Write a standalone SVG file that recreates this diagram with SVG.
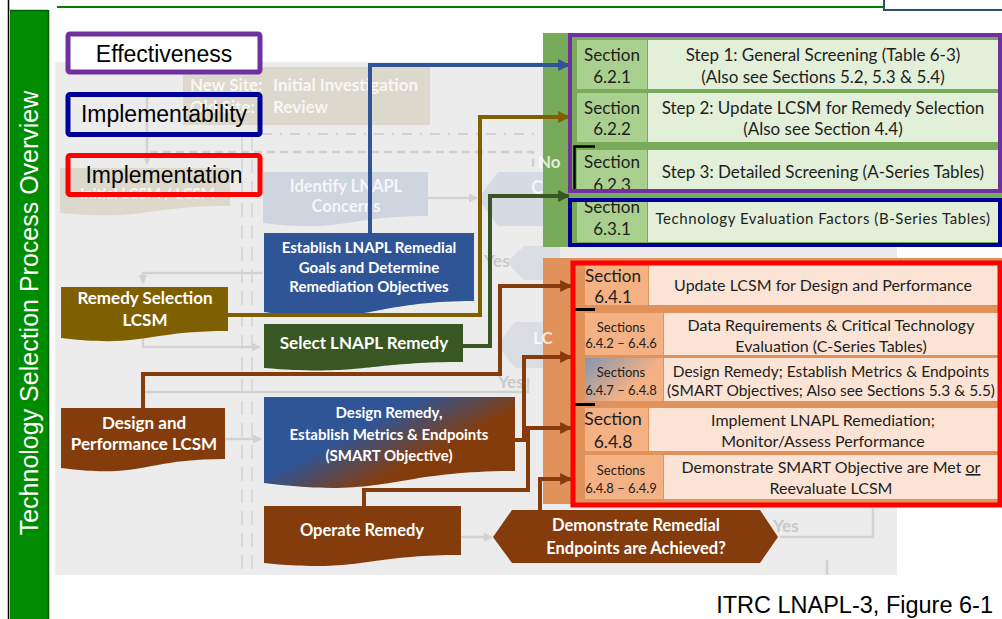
<svg xmlns="http://www.w3.org/2000/svg" width="1002" height="619" viewBox="0 0 1002 619">
<defs>
<style>
.bgt{font-family:Lato,"Liberation Sans",sans-serif;font-weight:bold;fill:#ffffff;fill-opacity:0.8}
.fy{font-family:Lato,"Liberation Sans",sans-serif;font-weight:bold;fill:#c9c9c9}
.nt{font-family:Lato,"Liberation Sans",sans-serif;font-weight:bold;fill:#ffffff;text-anchor:middle}
.tt{font-family:Lato,"Liberation Sans",sans-serif;fill:#1e1e1e;text-anchor:middle}
.leg{font-family:"Liberation Sans",Arial,sans-serif;font-size:23px;fill:#000000;text-anchor:middle}
.lb{stroke-width:5;rx:2}
.gl{fill:none;stroke:#d2d2d2;stroke-width:2.5}
.cn{fill:none;stroke-width:4}
.gcl{fill:#a9d08e}
.gcr{fill:#e2efd9}
.ocl{fill:#f4b183}
.ocr{fill:#fbe4d5}
</style>
<marker id="ag" viewBox="0 0 10 10" refX="9" refY="5" markerUnits="userSpaceOnUse" markerWidth="9" markerHeight="9" orient="auto"><path d="M0,0 L10,5 L0,10 z" fill="#d2d2d2"/></marker>
<marker id="ab" viewBox="0 0 10 10" refX="9" refY="5" markerUnits="userSpaceOnUse" markerWidth="12" markerHeight="12" orient="auto"><path d="M0,0 L10,5 L0,10 z" fill="#2f5597"/></marker>
<marker id="ao" viewBox="0 0 10 10" refX="9" refY="5" markerUnits="userSpaceOnUse" markerWidth="12" markerHeight="12" orient="auto"><path d="M0,0 L10,5 L0,10 z" fill="#7f6000"/></marker>
<marker id="agr" viewBox="0 0 10 10" refX="9" refY="5" markerUnits="userSpaceOnUse" markerWidth="12" markerHeight="12" orient="auto"><path d="M0,0 L10,5 L0,10 z" fill="#385723"/></marker>
<marker id="abr" viewBox="0 0 10 10" refX="9" refY="5" markerUnits="userSpaceOnUse" markerWidth="12" markerHeight="12" orient="auto"><path d="M0,0 L10,5 L0,10 z" fill="#843c0c"/></marker>
<linearGradient id="gdr" x1="0" y1="0" x2="1" y2="0.7">
<stop offset="0.42" stop-color="#2f5597"/>
<stop offset="0.74" stop-color="#843c0c"/>
</linearGradient>
<linearGradient id="gsc" x1="0" y1="0" x2="1" y2="0.6">
<stop offset="0" stop-color="#8497b0"/>
<stop offset="0.75" stop-color="#f4b183"/>
</linearGradient>
</defs>

<!-- frame -->
<rect x="0" y="0" width="1002" height="619" fill="#ffffff"/>
<line x1="8.5" y1="0" x2="8.5" y2="619" stroke="#000000" stroke-width="1.5"/>
<rect x="10" y="10" width="38" height="609" fill="#008c00"/>
<line x1="48.5" y1="10" x2="48.5" y2="619" stroke="#005c00" stroke-width="1.5"/>
<line x1="10" y1="10.5" x2="48" y2="10.5" stroke="#006000" stroke-width="1.5"/>
<text transform="translate(38,313) rotate(-90)" text-anchor="middle" font-family="'Liberation Sans',Arial,sans-serif" font-size="25" fill="#ffffff">Technology Selection Process Overview</text>
<line x1="57" y1="7" x2="885" y2="7" stroke="#008000" stroke-width="2"/>
<rect x="884" y="-6" width="124" height="16" fill="#ffffff" stroke="#2d4f66" stroke-width="2"/>

<!-- faded background flowchart -->
<g id="background">
<rect x="55" y="62" width="842" height="513" fill="#ececec"/>
<rect x="183" y="67" width="247" height="58" fill="#dcd8cc"/>
<text class="bgt" font-size="17" x="190" y="91">New Site:</text>
<text class="bgt" font-size="17" x="273" y="91">Initial Investigation</text>
<text class="bgt" font-size="17" x="190" y="113">Old Site:</text>
<text class="bgt" font-size="17" x="273" y="113">Review</text>
<line x1="262" y1="134" x2="535" y2="134" stroke="#d2d2d2" stroke-width="2" stroke-dasharray="10,8,2,8"/>
<path d="M150,152 H533 V172" fill="none" stroke="#d0d0d0" stroke-width="2.5" stroke-dasharray="8,5"/>
<line x1="242" y1="137" x2="242" y2="575" stroke="#dadada" stroke-width="2" stroke-dasharray="14,8"/>
<line x1="252" y1="137" x2="252" y2="575" stroke="#dadada" stroke-width="2" stroke-dasharray="14,8"/>
<path d="M60,168 h170 v38 C145,206 145,221 60,213 Z" fill="#dcd8cc"/>
<text class="bgt" font-size="15" x="80" y="199" fill-opacity="0.55">Initial LCSM / LCSM</text>
<path d="M263,172 h165 v44 C345,216 345,233 263,223 Z" fill="#cfd5df"/>
<text class="bgt" font-size="16.5" x="346" y="192" text-anchor="middle">Identify LNAPL</text>
<text class="bgt" font-size="16.5" x="346" y="212" text-anchor="middle">Concerns</text>
<polygon points="478,199 498,172 560,172 560,226 498,226" fill="#d5dae3"/>
<polygon points="507,262 524,246 560,246 560,280 524,280" fill="#dadde2"/>
<polygon points="497,345 515,322 560,322 560,368 515,368" fill="#dadde2"/>
<path class="gl" d="M147,97 V164" marker-end="url(#ag)"/>
<path class="gl" d="M263,273 H143 V283" marker-end="url(#ag)"/>
<path class="gl" d="M143,338 V347 H260" marker-end="url(#ag)"/>
<path class="gl" d="M143,392 H528 V378"/>
<path class="gl" d="M225,439 H261" marker-end="url(#ag)"/>
<path class="gl" d="M461,537 H492" marker-end="url(#ag)"/>
<path class="gl" d="M428,198 H477" marker-end="url(#ag)"/>
<path class="gl" d="M780,537 H873 V508"/>
<path class="gl" d="M827,450 V482"/>
<path class="gl" d="M827,560 V575"/>
<text class="fy" font-size="17" x="484" y="267">Yes</text>
<text class="fy" font-size="17" x="498" y="388">Yes</text>
<text class="fy" font-size="17" x="773" y="532">Yes</text>
</g>

<!-- coloured columns behind tables -->
<rect x="543" y="33" width="459" height="214" fill="#77aa59"/>
<rect x="543" y="258" width="459" height="246" fill="#e1915a"/>
<text class="bgt" font-size="17" x="538" y="168" fill-opacity="0.3">No</text>
<text class="bgt" font-size="18" x="531" y="194" fill-opacity="0.35">C</text>
<text class="bgt" font-size="17" x="533" y="344" fill-opacity="0.5">LC</text>

<!-- legend -->
<g id="legend-effectiveness">
<rect class="lb" x="68" y="34" width="192" height="38" fill="#ffffff" stroke="#7030a0"/>
<text class="leg" x="164" y="62">Effectiveness</text>
</g>
<g id="legend-implementability">
<rect class="lb" x="68" y="94.5" width="192" height="40" fill="none" stroke="#000099"/>
<text class="leg" x="164" y="122">Implementability</text>
</g>
<g id="legend-implementation">
<rect class="lb" x="68" y="155.5" width="192" height="39" fill="none" stroke="#ff0000"/>
<text class="leg" x="164" y="183">Implementation</text>
</g>

<!-- nodes -->
<g id="remedy-selection-lcsm">
<path d="M61,287 h167 v44 C144.5,331 144.5,348 61,338 Z" fill="#7f6000"/>
<text class="nt" font-size="17" x="145" y="304">Remedy Selection</text>
<text class="nt" font-size="17" x="145" y="326">LCSM</text>
</g>
<g id="design-performance-lcsm">
<path d="M61,408 h164 v51 C143,459 143,479 61,468 Z" fill="#843c0c"/>
<text class="nt" font-size="17" x="144" y="429">Design and</text>
<text class="nt" font-size="17" x="144" y="450">Performance LCSM</text>
</g>
<g id="establish-goals">
<path d="M264,233 h210 v68 C369,301 369,327 264,312 Z" fill="#2f5597"/>
<text class="nt" font-size="15" x="369" y="253">Establish LNAPL Remedial</text>
<text class="nt" font-size="15" x="369" y="273">Goals and Determine</text>
<text class="nt" font-size="15" x="369" y="292">Remediation Objectives</text>
</g>
<g id="select-remedy">
<path d="M264,324 h199 v38 C363.5,362 363.5,376 264,368 Z" fill="#385723"/>
<text class="nt" font-size="17" x="364" y="349">Select LNAPL Remedy</text>
</g>
<g id="design-remedy">
<path d="M264,397 h251 v74 C389.5,471 389.5,499 264,483 Z" fill="url(#gdr)"/>
<text class="nt" font-size="15" x="389" y="418">Design Remedy,</text>
<text class="nt" font-size="15" x="389" y="440">Establish Metrics &amp; Endpoints</text>
<text class="nt" font-size="15" x="389" y="461">(SMART Objective)</text>
</g>
<g id="operate-remedy">
<path d="M264,506 h197 v49 C362.5,555 362.5,573 264,563 Z" fill="#843c0c"/>
<text class="nt" font-size="16.5" x="362" y="536">Operate Remedy</text>
</g>
<g id="demonstrate-endpoints">
<polygon points="493,537 512,510 760,510 778,537 760,563 512,563" fill="#843c0c"/>
<text class="nt" font-size="16.5" x="636" y="531">Demonstrate Remedial</text>
<text class="nt" font-size="16.5" x="636" y="554">Endpoints are Achieved?</text>
</g>

<!-- connectors -->
<g id="connectors">
<path class="cn" stroke="#2f5597" d="M370,233 V65 H569" marker-end="url(#ab)"/>
<path class="cn" stroke="#7f6000" d="M228,315 H480 V117 H569" marker-end="url(#ao)"/>
<path class="cn" stroke="#385723" d="M463,346 H490 V196 H569" marker-end="url(#agr)"/>
<path class="cn" stroke="#843c0c" d="M143,408 V374 H500 V286 H571" marker-end="url(#abr)"/>
<path class="cn" stroke="#843c0c" d="M515,440 H524 V357 H571" marker-end="url(#abr)"/>
<path class="cn" stroke="#843c0c" d="M364,506 V490 H528 V428 H571" marker-end="url(#abr)"/>
<path class="cn" stroke="#843c0c" d="M540,510 V479 H571" marker-end="url(#abr)"/>
</g>

<!-- screening table (green) -->
<g id="section-6-2-1">
<rect class="gcl" x="577" y="40" width="70" height="49"/>
<rect class="gcr" x="648" y="40" width="350" height="49"/>
<text class="tt" font-size="17" x="612" y="61">Section</text>
<text class="tt" font-size="17" x="612" y="83">6.2.1</text>
<text class="tt" font-size="17" x="823" y="61">Step 1: General Screening (Table 6-3)</text>
<text class="tt" font-size="17" x="823" y="83">(Also see Sections 5.2, 5.3 &amp; 5.4)</text>
</g>
<g id="section-6-2-2">
<rect class="gcl" x="577" y="93" width="70" height="49"/>
<rect class="gcr" x="648" y="93" width="350" height="49"/>
<text class="tt" font-size="17" x="612" y="114">Section</text>
<text class="tt" font-size="17" x="612" y="135">6.2.2</text>
<text class="tt" font-size="17" x="823" y="114">Step 2: Update LCSM for Remedy Selection</text>
<text class="tt" font-size="17" x="823" y="135">(Also see Section 4.4)</text>
</g>
<g id="section-6-2-3">
<rect class="gcl" x="577" y="150" width="70" height="42"/>
<rect class="gcr" x="648" y="150" width="350" height="42"/>
<text class="tt" font-size="17" x="612" y="168">Section</text>
<text class="tt" font-size="17" x="612" y="191">6.2.3</text>
<text class="tt" font-size="17" x="823" y="178">Step 3: Detailed Screening (A-Series Tables)</text>
<path d="M595,146.5 H574.5 V190" fill="none" stroke="#000000" stroke-width="2.5"/>
</g>
<g id="section-6-3-1">
<rect class="gcl" x="577" y="200" width="70" height="42"/>
<rect class="gcr" x="648" y="200" width="350" height="42"/>
<text class="tt" font-size="17" x="612" y="213">Section</text>
<text class="tt" font-size="17" x="612" y="235">6.3.1</text>
<text class="tt" font-size="15" x="823" y="224" letter-spacing="0.55">Technology  Evaluation  Factors  (B-Series  Tables)</text>
</g>
<rect x="570" y="35" width="430" height="156" fill="none" stroke="#7030a0" stroke-width="4"/>
<rect x="570" y="200" width="430" height="45" fill="none" stroke="#000099" stroke-width="4"/>

<!-- implementation table (orange) -->
<g id="section-6-4-1">
<rect class="ocl" x="585" y="265" width="63" height="40"/>
<rect class="ocr" x="649" y="265" width="349" height="40"/>
<text class="tt" font-size="17" x="613" y="282">Section</text>
<text class="tt" font-size="17" x="613" y="303">6.4.1</text>
<text class="tt" font-size="16" x="823" y="291">Update LCSM for Design and Performance</text>
</g>
<g id="sections-6-4-2">
<rect class="ocl" x="585" y="313" width="78" height="42"/>
<rect class="ocr" x="664" y="313" width="334" height="42"/>
<text class="tt" font-size="13" x="621" y="332">Sections</text>
<text class="tt" font-size="13" x="621" y="348">6.4.2 – 6.4.6</text>
<text class="tt" font-size="16" x="831" y="331">Data Requirements &amp; Critical Technology</text>
<text class="tt" font-size="16" x="831" y="352">Evaluation (C-Series Tables)</text>
</g>
<g id="sections-6-4-7">
<rect x="585" y="358" width="78" height="43" fill="url(#gsc)"/>
<rect class="ocr" x="664" y="358" width="334" height="43"/>
<text class="tt" font-size="13" x="621" y="377">Sections</text>
<text class="tt" font-size="13" x="621" y="395">6.4.7 – 6.4.8</text>
<text class="tt" font-size="15.5" x="831" y="377">Design Remedy; Establish Metrics &amp; Endpoints</text>
<text class="tt" font-size="15.5" x="831" y="396">(SMART Objectives; Also see Sections 5.3 &amp; 5.5)</text>
</g>
<g id="section-6-4-8">
<rect class="ocl" x="585" y="408" width="63" height="43"/>
<rect class="ocr" x="649" y="408" width="349" height="43"/>
<text class="tt" font-size="17.5" x="613" y="425">Section</text>
<text class="tt" font-size="17.5" x="613" y="448">6.4.8</text>
<text class="tt" font-size="16" x="823" y="426">Implement LNAPL Remediation;</text>
<text class="tt" font-size="16" x="823" y="447">Monitor/Assess Performance</text>
</g>
<g id="sections-6-4-8-9">
<rect class="ocl" x="585" y="455" width="78" height="44"/>
<rect class="ocr" x="664" y="455" width="334" height="44"/>
<text class="tt" font-size="13" x="621" y="475">Sections</text>
<text class="tt" font-size="13" x="621" y="493">6.4.8 – 6.4.9</text>
<text class="tt" font-size="16" x="831" y="473">Demonstrate SMART Objective are Met <tspan text-decoration="underline">or</tspan></text>
<text class="tt" font-size="16" x="831" y="494">Reevaluate LCSM</text>
</g>
<line x1="575" y1="309.5" x2="595" y2="309.5" stroke="#000000" stroke-width="3"/>
<line x1="575" y1="404.5" x2="595" y2="404.5" stroke="#000000" stroke-width="3"/>
<rect x="573" y="263" width="427" height="242" fill="none" stroke="#ff0000" stroke-width="5"/>

<text x="993" y="613" text-anchor="end" font-family="'Liberation Sans',Arial,sans-serif" font-size="23.5" fill="#000000">ITRC LNAPL-3, Figure 6-1</text>
</svg>
